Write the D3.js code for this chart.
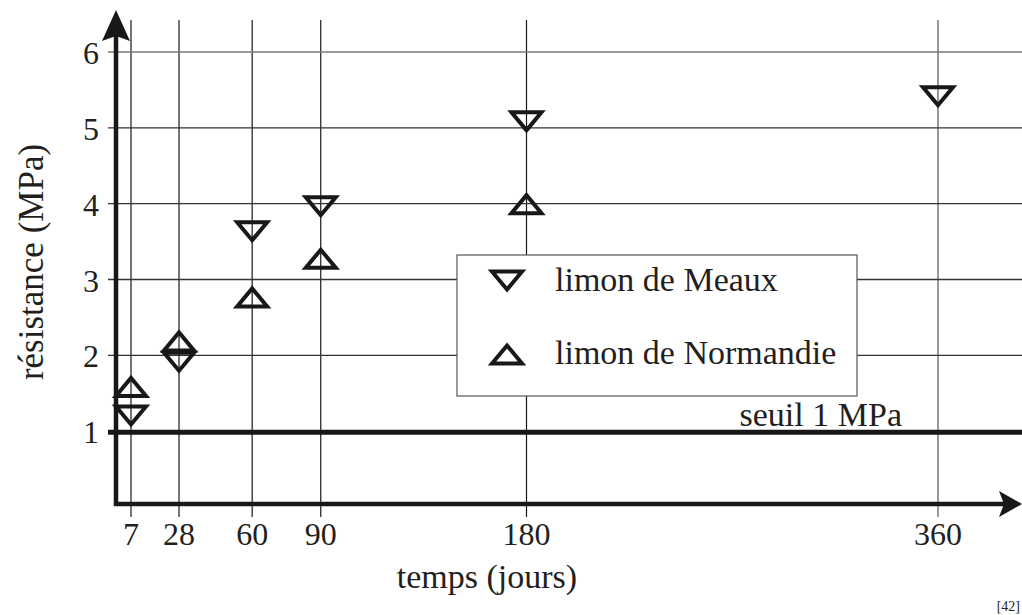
<!DOCTYPE html>
<html>
<head>
<meta charset="utf-8">
<script src="https://cdn.jsdelivr.net/npm/d3@7/dist/d3.min.js"></script>
<style>
  html, body { margin: 0; padding: 0; background: #fff; }
  svg { display: block; }
  text { font-family: "Liberation Serif", "DejaVu Serif", serif; fill: #231f20; }
</style>
</head>
<body>
<svg id="chart" width="1022" height="615"></svg>
<script>
// Curing time (days) and compressive strength (MPa) for two silts
const days = [7, 28, 60, 90, 180, 360];
const meaux = [1.2, 1.91, 3.63, 3.96, 5.08, 5.41];
const normandieDays = [7, 28, 60, 90, 180];
const normandie = [1.59, 2.19, 2.77, 3.28, 4.0];
const yTicks = [1, 2, 3, 4, 5, 6];
const threshold = 1;
const seriesNames = ["limon de Meaux", "limon de Normandie"];

const W = 1022, H = 615;
const ink = "#1a1718";
const svg = d3.select("#chart");

const x = d3.scaleLinear().domain([0, 360]).range([115, 938]);
const y = d3.scaleLinear().domain([0, 6]).range([507, 52]);

const x0 = x(0) + 1;      // vertical axis position
const yAxisY = y(0) - 3;  // horizontal axis position

// vertical grid lines at the sampled ages
svg.append("g").selectAll("line").data(days).join("line")
  .attr("x1", d => x(d)).attr("x2", d => x(d))
  .attr("y1", 20).attr("y2", 517)
  .attr("stroke", d => d === 360 ? "#555" : ink).attr("stroke-width", 1.2);

// horizontal grid lines
svg.append("g").selectAll("line").data(yTicks.filter(d => d !== threshold)).join("line")
  .attr("x1", 108).attr("x2", W)
  .attr("y1", d => y(d)).attr("y2", d => y(d))
  .attr("stroke", d => d === 6 ? "#777" : "#333").attr("stroke-width", 1.3);

// 1 MPa threshold
svg.append("line")
  .attr("x1", 108).attr("x2", W)
  .attr("y1", y(threshold) + 1).attr("y2", y(threshold) + 1)
  .attr("stroke", ink).attr("stroke-width", 5);
svg.append("text")
  .attr("x", 902).attr("y", y(threshold) - 5)
  .attr("text-anchor", "end").attr("font-size", 34)
  .text("seuil 1 MPa");

// axes with arrowheads
svg.append("line")
  .attr("x1", x0).attr("x2", x0).attr("y1", yAxisY + 2).attr("y2", 36)
  .attr("stroke", ink).attr("stroke-width", 4.5);
svg.append("path")
  .attr("d", `M${x0},10 L${x0 + 14},41 L${x0},36 L${x0 - 14},41 Z`)
  .attr("fill", ink);
svg.append("line")
  .attr("x1", x0 - 2).attr("x2", 1005).attr("y1", yAxisY).attr("y2", yAxisY)
  .attr("stroke", ink).attr("stroke-width", 4.5);
svg.append("path")
  .attr("d", `M1022,${yAxisY} L999,${yAxisY - 13} L1004,${yAxisY} L999,${yAxisY + 13} Z`)
  .attr("fill", ink);

// tick labels
svg.append("g").selectAll("text").data(yTicks).join("text")
  .attr("x", 99).attr("y", d => y(d)).attr("dy", "0.38em")
  .attr("text-anchor", "end").attr("font-size", 32)
  .text(d => d);
svg.append("g").selectAll("text").data(days).join("text")
  .attr("x", d => x(d)).attr("y", 545)
  .attr("text-anchor", "middle").attr("font-size", 32)
  .text(d => d);

// axis titles
svg.append("text")
  .attr("x", 487).attr("y", 588)
  .attr("text-anchor", "middle").attr("font-size", 34)
  .text("temps (jours)");
svg.append("text")
  .attr("transform", `translate(43,262) rotate(-90)`)
  .attr("text-anchor", "middle").attr("font-size", 35)
  .text("résistance (MPa)");

// triangle markers
const down = "M-15,-9.5 L15,-9.5 L0,8.5 Z";
const up = "M-15,9.5 L15,9.5 L0,-8.5 Z";
function markers(xs, ys, shape) {
  svg.append("g").selectAll("path").data(ys).join("path")
    .attr("transform", (d, i) => `translate(${x(xs[i])},${y(d)})`)
    .attr("d", shape)
    .attr("fill", "none").attr("stroke", ink)
    .attr("stroke-width", 4).attr("stroke-linejoin", "miter");
}
markers(days, meaux, down);
markers(normandieDays, normandie, up);

// legend
const lg = svg.append("g").attr("transform", "translate(457,255)");
lg.append("rect").attr("width", 400).attr("height", 141)
  .attr("fill", "#fff").attr("stroke", "#555").attr("stroke-width", 1.2);
const rows = [{ name: seriesNames[0], shape: down, cy: 26 }, { name: seriesNames[1], shape: up, cy: 99 }];
rows.forEach(r => {
  lg.append("path").attr("d", r.shape)
    .attr("transform", `translate(50,${r.cy})`)
    .attr("fill", "none").attr("stroke", ink).attr("stroke-width", 4);
  lg.append("text").attr("x", 98).attr("y", r.cy + 10)
    .attr("font-size", 34).text(r.name);
});

// source reference
svg.append("text")
  .attr("x", 1020).attr("y", 611).attr("text-anchor", "end")
  .attr("font-size", 14).text("[42]");
</script>
</body>
</html>
